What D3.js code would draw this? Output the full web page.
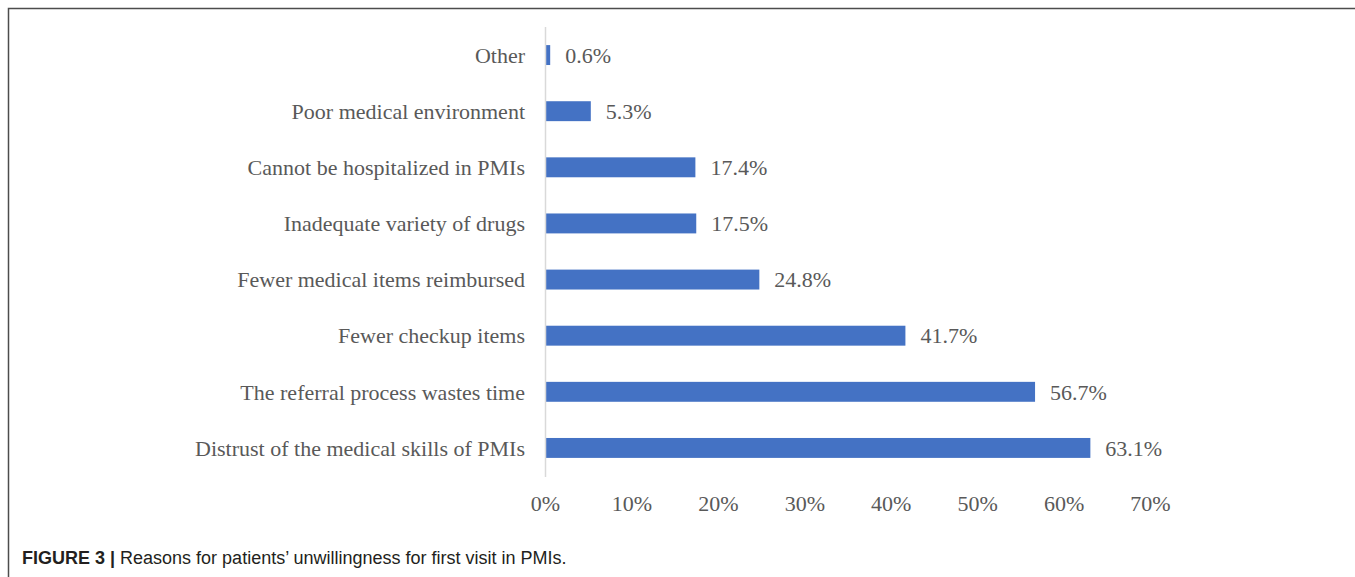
<!DOCTYPE html>
<html>
<head>
<meta charset="utf-8">
<script src="https://cdn.jsdelivr.net/npm/d3@7"></script>
<style>
  body { margin: 0; background: #fff; }
  svg { display: block; }
</style>
</head>
<body>
<svg id="chart" width="1355" height="577"></svg>
<script>
// data, top to bottom as drawn
const reasons = [
  "Other",
  "Poor medical environment",
  "Cannot be hospitalized in PMIs",
  "Inadequate variety of drugs",
  "Fewer medical items reimbursed",
  "Fewer checkup items",
  "The referral process wastes time",
  "Distrust of the medical skills of PMIs"
];
const shares = [0.6, 5.3, 17.4, 17.5, 24.8, 41.7, 56.7, 63.1];
const tickValues = [0, 10, 20, 30, 40, 50, 60, 70];
const caption = "Reasons for patients\u2019 unwillingness for first visit in PMIs.";

(() => {
  let svg = d3.select("svg#chart"),
      serif = "'Liberation Serif', 'Times New Roman', serif",
      x = d3.scaleLinear().domain([0, 70]).range([545, 1150]),
      y = d3.scaleBand().domain(reasons).range([27, 476]).paddingInner(0.645).paddingOuter(0.3225);

  // frame (top and left edges)
  svg.append("path")
      .attr("d", "M8.5,577V8.5H1355")
      .attr("fill", "none")
      .attr("stroke", "#4d4d4d")
      .attr("stroke-width", 1.5);

  // bars
  svg.selectAll(".bar")
      .data(reasons)
      .enter().append("rect")
      .attr("class", "bar")
      .attr("x", x(0))
      .attr("y", (d) => y(d))
      .attr("width", (d, i) => x(shares[i]) - x(0))
      .attr("height", y.bandwidth())
      .attr("fill", "#4472c4");

  // y axis line
  svg.append("line")
      .attr("x1", x(0) + 0.5).attr("x2", x(0) + 0.5)
      .attr("y1", 27).attr("y2", 477)
      .attr("stroke", "#d9d9d9")
      .attr("stroke-width", 1.5);

  // category labels
  svg.selectAll(".cat")
      .data(reasons)
      .enter().append("text")
      .attr("class", "cat")
      .attr("x", x(0) - 20)
      .attr("y", (d) => y(d) + y.bandwidth() / 2)
      .attr("dy", "0.35em")
      .attr("text-anchor", "end")
      .attr("font-family", serif)
      .attr("font-size", 22)
      .attr("fill", "#595959")
      .text((d) => d);

  // value labels
  svg.selectAll(".val")
      .data(reasons)
      .enter().append("text")
      .attr("class", "val")
      .attr("x", (d, i) => x(shares[i]) + 15)
      .attr("y", (d) => y(d) + y.bandwidth() / 2)
      .attr("dy", "0.35em")
      .attr("font-family", serif)
      .attr("font-size", 22)
      .attr("fill", "#595959")
      .text((d, i) => shares[i].toFixed(1) + "%");

  // x axis (labels only)
  let ax = svg.append("g")
      .attr("transform", "translate(0,503)")
      .call(d3.axisBottom(x).tickValues(tickValues).tickSize(0).tickPadding(0).tickFormat((d) => d + "%"));
  ax.select(".domain").remove();
  ax.selectAll("text")
      .attr("dy", "0.35em")
      .attr("font-family", serif)
      .attr("font-size", 22)
      .attr("fill", "#595959");

  // caption
  let cap = svg.append("text")
      .attr("x", 22)
      .attr("y", 564)
      .attr("font-family", "'Liberation Sans', Arial, sans-serif")
      .attr("font-size", 18)
      .attr("fill", "#231f20");
  cap.append("tspan").attr("font-weight", "bold").text("FIGURE 3 | ");
  cap.append("tspan").text(caption);
})();
</script>
</body>
</html>
